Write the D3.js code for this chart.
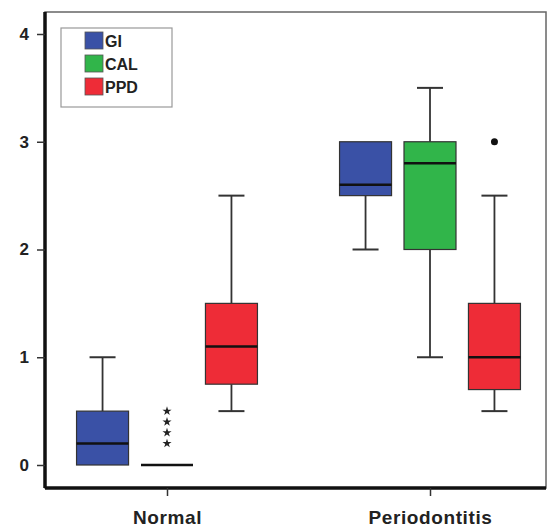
<!DOCTYPE html>
<html>
<head>
<meta charset="utf-8">
<script src="https://cdn.jsdelivr.net/npm/d3@7"></script>
<style>
  body { margin: 0; background: #fff; }
  svg { display: block; font-family: "Liberation Sans", Arial, sans-serif; }
</style>
</head>
<body>
<div id="chart"></div>
<script>
// data
var groups = ["Normal", "Periodontitis"],
    series = ["GI", "CAL", "PPD"],
    seriesColors = ["#3a51a6", "#31b54a", "#ee2c37"],
    yTicks = [0, 1, 2, 3, 4];

// [min, q1, median, q3, max] per group
var giStats = [[0, 0, 0.2, 0.5, 1.0], [2.0, 2.5, 2.6, 3.0, 3.0]],
    calStats = [[0, 0, 0, 0, 0], [1.0, 2.0, 2.8, 3.0, 3.5]],
    ppdStats = [[0.5, 0.75, 1.1, 1.5, 2.5], [0.5, 0.7, 1.0, 1.5, 2.5]];

// extremes (stars) and outliers (dots): [series, group, value]
var extremes = [["CAL", "Normal", 0.2], ["CAL", "Normal", 0.3], ["CAL", "Normal", 0.4], ["CAL", "Normal", 0.5]],
    outliers = [["PPD", "Periodontitis", 3.0]];

var W = 547, H = 529,
    m = {t: 12, r: 1, b: 41, l: 45};

var svg = d3.select("#chart").append("svg")
  .attr("width", W)
  .attr("height", H);

var statsBySeries = {"GI": giStats, "CAL": calStats, "PPD": ppdStats};
var boxes = [];
series.forEach(function(s, si){
  groups.forEach(function(g, gi){
    var st = statsBySeries[s][gi];
    boxes.push({series: s, group: g, color: seriesColors[si],
      min: st[0], q1: st[1], med: st[2], q3: st[3], max: st[4]});
  });
});

var y = d3.scaleLinear().domain([0, 4]).range([465, 34]);
var x = d3.scalePoint().domain(groups).range([167, 430]);
var xs = d3.scaleBand().domain(series).range([-97, 97]).paddingInner(0.19).paddingOuter(0.1);
var bw = 52;
function cx(d){ return x(d.group) + xs(d.series) + xs.bandwidth() / 2; }

// frame (thin, top and right)
svg.append("rect")
  .attr("x", m.l).attr("y", m.t)
  .attr("width", W - m.r - m.l).attr("height", H - m.b - m.t)
  .attr("fill", "none").attr("stroke", "#666").attr("stroke-width", 1.5);

// legend
var leg = svg.append("g").attr("transform", "translate(61,28)");
leg.append("rect").attr("width", 111).attr("height", 79)
  .attr("fill", "#fff").attr("stroke", "#999").attr("stroke-width", 1.2);
series.forEach(function(s, i){
  var row = leg.append("g").attr("transform", "translate(24," + (4 + i * 23) + ")");
  row.append("rect").attr("width", 18).attr("height", 17)
    .attr("fill", seriesColors[i]).attr("stroke", "#555").attr("stroke-width", 0.8);
  row.append("text").attr("x", 20).attr("y", 15)
    .attr("font-size", 16).attr("font-weight", "bold").attr("fill", "#222")
    .text(s);
});

// whiskers, boxes, medians
var gBox = svg.append("g");
boxes.forEach(function(d){
  var c = cx(d), g = gBox.append("g");
  if (d.max > d.q3) {
    g.append("line").attr("x1", c).attr("x2", c).attr("y1", y(d.q3)).attr("y2", y(d.max))
      .attr("stroke", "#333").attr("stroke-width", 1.8);
    g.append("line").attr("x1", c - 13).attr("x2", c + 13).attr("y1", y(d.max)).attr("y2", y(d.max))
      .attr("stroke", "#333").attr("stroke-width", 2);
  }
  if (d.min < d.q1) {
    g.append("line").attr("x1", c).attr("x2", c).attr("y1", y(d.q1)).attr("y2", y(d.min))
      .attr("stroke", "#333").attr("stroke-width", 1.8);
    g.append("line").attr("x1", c - 13).attr("x2", c + 13).attr("y1", y(d.min)).attr("y2", y(d.min))
      .attr("stroke", "#333").attr("stroke-width", 2);
  }
  if (d.q3 > d.q1) {
    g.append("rect").attr("x", c - bw / 2).attr("y", y(d.q3))
      .attr("width", bw).attr("height", y(d.q1) - y(d.q3))
      .attr("fill", d.color).attr("stroke", "#333").attr("stroke-width", 1.2);
  }
  g.append("line").attr("x1", c - bw / 2).attr("x2", c + bw / 2)
    .attr("y1", y(d.med)).attr("y2", y(d.med))
    .attr("stroke", "#111").attr("stroke-width", 2.5);
});

// extremes as stars, outliers as dots
var star = d3.symbol().type(d3.symbolStar).size(26);
svg.selectAll(".extreme").data(extremes).enter().append("path")
  .attr("class", "extreme")
  .attr("d", star)
  .attr("transform", function(d){
    return "translate(" + cx({group: d[1], series: d[0]}) + "," + y(d[2]) + ")";
  })
  .attr("fill", "#222");
svg.selectAll(".outlier").data(outliers).enter().append("circle")
  .attr("class", "outlier")
  .attr("cx", function(d){ return cx({group: d[1], series: d[0]}); })
  .attr("cy", function(d){ return y(d[2]); })
  .attr("r", 3.5).attr("fill", "#111");

// axes
var yAxis = svg.append("g").attr("transform", "translate(" + m.l + ",0)")
  .call(d3.axisLeft(y).tickValues(yTicks).tickFormat(d3.format("d")).tickSize(10).tickPadding(6));
var xAxis = svg.append("g").attr("transform", "translate(0," + (H - m.b) + ")")
  .call(d3.axisBottom(x).tickSize(10).tickPadding(13));
[yAxis, xAxis].forEach(function(a){
  a.select(".domain").attr("stroke", "#111").attr("stroke-width", 3.5);
  a.selectAll(".tick line").attr("stroke", "#333").attr("stroke-width", 1.5);
  a.selectAll(".tick text").attr("font-weight", "bold")
    .attr("fill", "#222").attr("font-family", "Liberation Sans, Arial, sans-serif");
});
yAxis.selectAll(".tick text").attr("font-size", 17);
xAxis.selectAll(".tick text").attr("font-size", 19).attr("letter-spacing", 0.6);
yAxis.select(".domain").attr("d", "M0," + m.t + "V" + (H - m.b));
xAxis.select(".domain").attr("d", "M" + m.l + ",0H" + (W - m.r));
yAxis.selectAll(".tick line").attr("x2", -8);
xAxis.selectAll(".tick line").attr("y2", 8);
</script>
</body>
</html>
